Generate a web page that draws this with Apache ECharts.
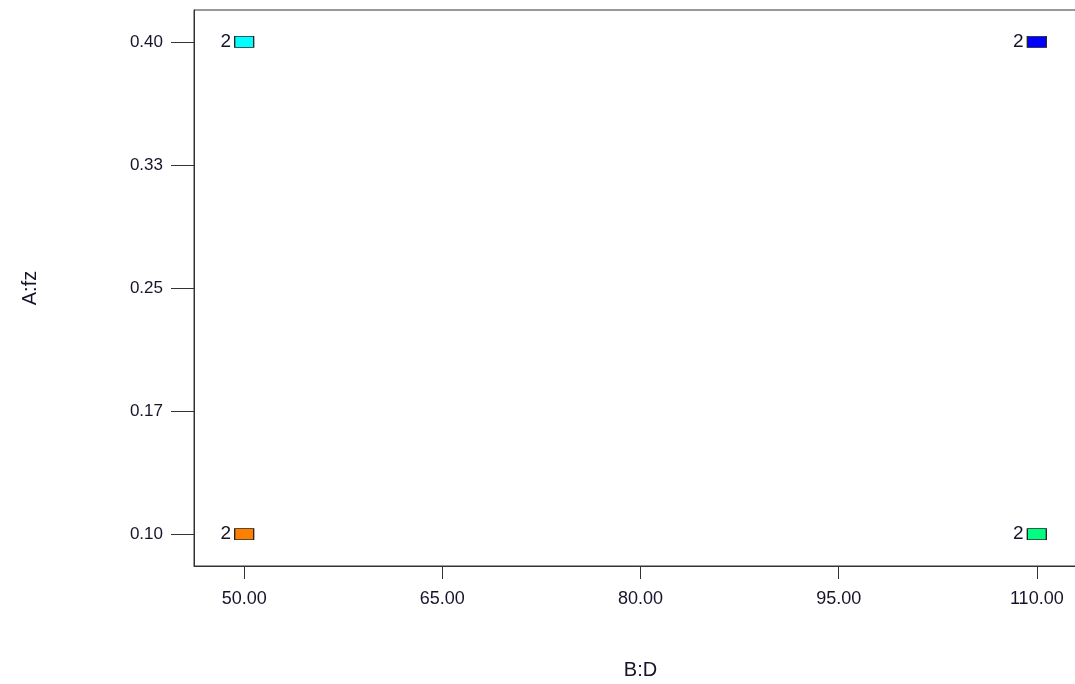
<!DOCTYPE html>
<html>
<head>
<meta charset="utf-8">
<script src="https://cdn.jsdelivr.net/npm/echarts@6/dist/echarts.min.js"></script>
<style>
  html, body { margin: 0; padding: 0; background: #fff; }
  #main { width: 1075px; height: 684px; }
</style>
</head>
<body>
<div id="main"></div>
<script>
// design points (B:D, A:fz) and replicate counts
var xValues = [50, 50, 110, 110];
var yValues = [0.10, 0.40, 0.10, 0.40];
var counts = [2, 2, 2, 2];

var xTickValues = [50, 65, 80, 95, 110];
var xTickLabels = ['50.00', '65.00', '80.00', '95.00', '110.00'];
var yTickValues = [0.10, 0.175, 0.25, 0.325, 0.40];
var yTickLabels = ['0.10', '0.17', '0.25', '0.33', '0.40'];

var pointColors = ['#ff8000', '#00ffff', '#00ff80', '#0000ff'];

function buildData() {
    var arr = [];
    for (var i = 0; i < xValues.length; i++) {
        arr.push({
            value: [xValues[i], yValues[i], counts[i]],
            itemStyle: { color: pointColors[i] }
        });
    }
    return arr;
}

var textColor = '#15152a';
var fontName = 'Liberation Sans, Arial, sans-serif';

var myChart = echarts.init(document.getElementById('main'));
myChart.setOption({
    animation: false,
    backgroundColor: '#fff',
    grid: {
        left: 194,
        top: 10,
        width: 893,
        height: 556,
        containLabel: false,
        outerBoundsMode: 'none',
        show: true,
        borderColor: '#333',
        borderWidth: 1
    },
    xAxis: {
        type: 'value',
        min: 46.2,
        max: 113.8,
        name: 'B:D',
        nameLocation: 'middle',
        nameGap: 94,
        nameTextStyle: { fontSize: 20, color: textColor, fontFamily: fontName },
        splitLine: { show: false },
        axisLine: { show: true, onZero: false, lineStyle: { color: '#333', width: 1 } },
        axisTick: {
            show: true,
            length: 13,
            customValues: xTickValues,
            lineStyle: { color: '#333' }
        },
        axisLabel: {
            customValues: xTickValues,
            margin: 24,
            fontSize: 18,
            color: textColor,
            fontFamily: fontName,
            formatter: function (v) {
                return xTickLabels[xTickValues.indexOf(v)];
            }
        }
    },
    yAxis: {
        type: 'value',
        min: 0.0805,
        max: 0.4195,
        name: 'A:fz',
        nameLocation: 'middle',
        nameRotate: 90,
        nameGap: 154,
        nameTextStyle: { fontSize: 20, color: textColor, fontFamily: fontName },
        splitLine: { show: false },
        axisLine: { show: true, onZero: false, lineStyle: { color: '#333', width: 1 } },
        axisTick: {
            show: true,
            length: 23,
            customValues: yTickValues,
            lineStyle: { color: '#333' }
        },
        axisLabel: {
            customValues: yTickValues,
            margin: 31,
            fontSize: 17,
            color: textColor,
            fontFamily: fontName,
            formatter: function (v) {
                for (var i = 0; i < yTickValues.length; i++) {
                    if (Math.abs(yTickValues[i] - v) < 1e-6) return yTickLabels[i];
                }
                return '';
            }
        }
    },
    series: [{
        type: 'scatter',
        symbol: 'rect',
        symbolSize: [19, 11],
        itemStyle: { borderColor: '#222', borderWidth: 1, opacity: 1 },
        label: {
            show: true,
            position: 'left',
            distance: 3,
            fontSize: 19,
            color: textColor,
            fontFamily: fontName,
            formatter: function (p) { return p.value[2]; }
        },
        data: buildData()
    }]
});
</script>
</body>
</html>
